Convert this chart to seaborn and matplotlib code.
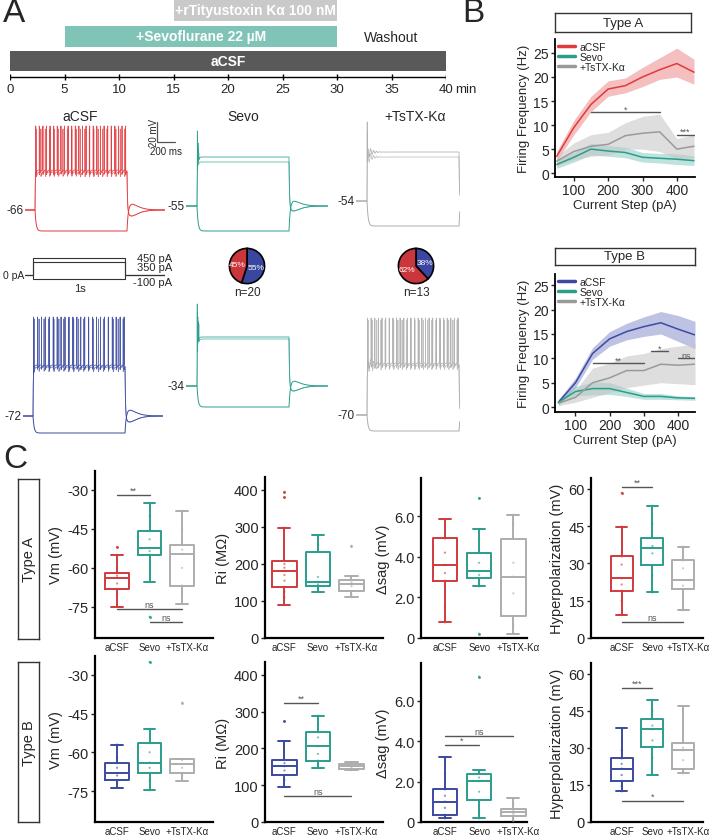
import numpy as np
import pandas as pd
import matplotlib
matplotlib.use("Agg")
import matplotlib.pyplot as plt
import matplotlib.transforms as mtransforms
from matplotlib.lines import Line2D
import seaborn as sns

# ======================= DATA =======================
# Panel A - timeline (minutes)
tl_labels = ["aCSF", "+Sevoflurane 22 µM", "+rTityustoxin Kα 100 nM"]
tl_start = [0, 5, 15]
tl_end = [40, 30, 30]
tl_ticks = [0, 5, 10, 15, 20, 25, 30, 35, 40]

# Panel A - example traces (mV)
trace_titles = ["aCSF", "Sevo", "+TsTX-Kα"]
rest_A = [-66, -55, -54]
rest_B = [-72, -34, -70]
plateau_A = [[-26, -28], [-6, -11], [-5, -10]]
plateau_B = [[-21, -23], [15, 13], [-18, -20]]
hyper_A = [-87, -80, -79]
hyper_B = [-89, -55, -86]
stim_levels = [450, 350, -100]

# Pie charts: proportion of Type A / Type B cells
pie_n = ["n=20", "n=13"]
pie_typeA = [45, 62]
pie_typeB = [55, 38]

# Panel B - F/I curves
steps = [50, 100, 150, 200, 250, 300, 350, 400, 450]
A_acsf = [3.5, 9.5, 14.3, 17.5, 18.2, 20.0, 21.5, 22.8, 21.0]
A_acsf_lo = [2.5, 8.0, 12.8, 16.0, 16.7, 18.0, 19.5, 20.0, 18.5]
A_acsf_hi = [4.5, 11.0, 16.0, 19.2, 19.8, 22.0, 24.0, 26.0, 23.7]
A_sevo = [1.8, 3.3, 5.0, 4.6, 4.3, 3.3, 3.1, 2.9, 2.6]
A_sevo_lo = [1.0, 2.3, 3.8, 3.5, 3.2, 2.3, 2.1, 1.8, 1.6]
A_sevo_hi = [2.6, 4.3, 6.2, 5.7, 5.4, 4.3, 4.1, 4.0, 3.6]
A_tstx = [2.5, 4.5, 5.6, 6.0, 7.8, 8.3, 8.6, 5.0, 5.6]
A_tstx_lo = [1.5, 2.8, 3.5, 3.8, 5.0, 5.0, 4.5, 3.0, 3.2]
A_tstx_hi = [3.5, 6.3, 8.0, 8.5, 10.5, 11.8, 12.3, 7.2, 8.0]
B_acsf = [1.0, 5.0, 11.0, 14.0, 15.5, 16.5, 17.3, 16.0, 14.8]
B_acsf_lo = [0.5, 4.0, 9.8, 12.5, 13.8, 14.5, 15.0, 13.5, 12.0]
B_acsf_hi = [1.5, 6.0, 12.2, 15.5, 17.2, 18.5, 19.6, 18.8, 17.6]
B_sevo = [1.0, 3.2, 3.8, 3.8, 3.0, 2.2, 2.2, 1.9, 1.8]
B_sevo_lo = [0.5, 2.3, 2.5, 2.6, 2.2, 1.6, 1.6, 1.5, 1.4]
B_sevo_hi = [1.5, 4.2, 5.2, 5.0, 3.9, 2.8, 2.8, 2.3, 2.2]
B_tstx = [0.8, 2.0, 5.0, 6.0, 7.5, 7.5, 8.8, 8.6, 8.8]
B_tstx_lo = [0.3, 1.0, 2.0, 3.0, 4.0, 4.5, 5.0, 4.8, 4.6]
B_tstx_hi = [1.3, 3.5, 8.0, 9.0, 10.5, 11.0, 12.0, 12.5, 13.0]
sigB_A = [(150, 350, 12.7, "*"), (400, 450, 8.0, "***")]
sigB_B = [(150, 300, 9.0, "**"), (320, 370, 11.5, "*"), (400, 450, 10.0, "ns")]

# Panel C - box plot values
conds = ["aCSF", "Sevo", "+TsTX-Kα"]
vm_A_acsf = [-75, -70, -68.1, -66, -63.8, -63, -61.9, -55, -52.0]
vm_A_sevo = [-78.8, -65.4, -54.9, -53.5, -52.3, -49, -45.8, -40, -35]
vm_A_tstx = [-73.8, -70, -66.8, -60, -54.6, -53, -51, -45, -38]
ri_A_acsf = [89, 110, 125, 138, 155, 170, 181, 190, 200, 208, 298, 380, 395]
ri_A_sevo = [125, 132, 140, 145, 152, 165, 233, 250, 278]
ri_A_tstx = [110, 118, 126, 140, 146, 150, 157, 167, 249]
sag_A_acsf = [0.77, 1.5, 2.82, 3.2, 3.6, 4.2, 4.9, 5.5, 5.85]
sag_A_sevo = [0.21, 2.54, 2.94, 3.1, 3.28, 3.7, 4.18, 5.36, 6.89]
sag_A_tstx = [0.21, 0.6, 1.07, 2.2, 3.02, 3.7, 4.87, 5.6, 6.07]
hyp_A_acsf = [9.2, 15, 19, 21.5, 24, 29.5, 32.8, 44.8, 58.3]
hyp_A_sevo = [18.3, 25, 29.3, 34, 36.3, 37, 40.3, 46, 53.2]
hyp_A_tstx = [11.2, 16, 19.5, 21, 23.3, 28, 31.2, 33, 36.7]
vm_B_acsf = [-73.8, -72, -70.9, -69, -68, -66, -64.2, -62, -57]
vm_B_sevo = [-74.7, -71, -68, -66, -64, -60, -56.4, -51, -25]
vm_B_tstx = [-71, -69, -68.2, -66, -64.6, -63, -62.6, -62.6, -40.8]
ri_B_acsf = [96, 115, 127.9, 140, 151.5, 160, 168.7, 219.6, 274]
ri_B_sevo = [147, 155, 167, 185, 206, 230, 244, 265, 289]
ri_B_tstx = [141, 142, 143, 148, 152, 156, 159, 160, 162]
sag_B_acsf = [0.18, 0.25, 0.36, 0.7, 1.01, 1.3, 1.61, 2.4, 3.22]
sag_B_sevo = [0.18, 0.6, 1.08, 1.5, 2.02, 2.2, 2.39, 2.55, 7.2]
sag_B_tstx = [0.0, 0.15, 0.28, 0.4, 0.48, 0.55, 0.65, 0.9, 1.18]
hyp_B_acsf = [12.4, 14.5, 16.6, 19, 21.6, 23.5, 25.7, 29, 38]
hyp_B_sevo = [19.2, 26, 30.5, 33, 37.5, 39, 41.8, 45, 49.3]
hyp_B_tstx = [19.7, 20.5, 21.3, 25, 29, 30, 32.1, 38, 46.9]
sig_vm_A = [(0, 1, -31.8, "**"), (0, 2, -76, "ns"), (1, 2, -81, "ns")]
sig_ri_A = []
sig_sag_A = []
sig_hyp_A = [(0, 1, 60.8, "**"), (0, 2, 6.3, "ns")]
sig_vm_B = []
sig_ri_B = [(0, 1, 324, "**"), (0, 2, 71.6, "ns")]
sig_sag_B = [(0, 1, 3.8, "*"), (0, 2, 4.24, "ns")]
sig_hyp_B = [(0, 1, 54.3, "***"), (0, 2, 8.4, "*")]

# ======================= STYLE =======================
sns.set_theme(style="white")
plt.rcParams["font.family"] = ["Liberation Sans", "DejaVu Sans"]
plt.rcParams["axes.unicode_minus"] = False

RED = "#e23b3f"
RED_BOX = "#d03a3e"
TEAL = "#2a9d8c"
GRAY = "#adadad"
BLUE = "#3b4a9f"
PIE_RED = "#c9363b"
PIE_BLUE = "#3b46a0"

W, H = 709, 837
fig = plt.figure(figsize=(W / 100, H / 100), dpi=100)


def px_axes(x0, y0, x1, y1, **kw):
    return fig.add_axes([x0 / W, 1 - y1 / H, (x1 - x0) / W, (y1 - y0) / H], **kw)


def ftext(x, y, s, **kw):
    fig.text(x / W, 1 - y / H, s, **kw)


# Panel letters
ftext(3, 14, "A", fontsize=24, va="center", ha="left")
ftext(462, 14, "B", fontsize=24, va="center", ha="left")
ftext(3, 460, "C", fontsize=24, va="center", ha="left")

# ======================= PANEL A: timeline =======================
ax_tl = px_axes(10, 0, 446, 100)
ax_tl.set_xlim(0, 40)
ax_tl.set_ylim(100, 0)
ax_tl.axis("off")
tl_rows = [62, 37.5, 11.5]
tl_heights = [20, 21, 21]
tl_colors = ["#595959", "#80c4b7", "#c9c9c9"]
for lab, s, e, yy, hh, c in zip(tl_labels, tl_start, tl_end, tl_rows, tl_heights, tl_colors):
    ax_tl.barh(yy, e - s, left=s, height=hh, color=c, edgecolor="none")
    ax_tl.text((s + e) / 2, yy, lab, ha="center", va="center", color="white",
               fontsize=10, fontweight="bold")
ax_tl.text(35, 37.5, "Washout", ha="center", va="center", fontsize=10)
ax_tl.hlines(78, 0, 40, color="black", lw=1)
ax_tl.vlines(tl_ticks, 75, 81, color="black", lw=1)
for tk in tl_ticks:
    ax_tl.text(tk, 90, str(tk), ha="center", va="center", fontsize=9.5)
ax_tl.text(40.8, 90, "min", ha="left", va="center", fontsize=9.5, clip_on=False)

# ======================= PANEL A: traces =======================
PX_PER_MS = 0.092


def trace_axes(x0_px, base_px, v_rest, tmin, tmax, vmin=-100, vmax=60):
    left = x0_px + tmin * PX_PER_MS
    right = x0_px + tmax * PX_PER_MS
    top = base_px - (vmax - v_rest)
    bottom = base_px - (vmin - v_rest)
    ax = px_axes(left, top, right, bottom)
    ax.set_xlim(tmin, tmax)
    ax.set_ylim(vmin, vmax)
    ax.axis("off")
    return ax


def step_response(t, v_rest, v_level, tau_on=6.0, rebound=0.0, tau_off=6.0,
                  osc=0.0, t_end=1000):
    v = np.full(t.shape, float(v_rest))
    on = (t >= 0) & (t < t_end)
    ton = t[on]
    v[on] = v_level + (v_rest - v_level) * np.exp(-ton / tau_on)
    if osc:
        v[on] += osc * np.exp(-ton / 45) * np.sin(2 * np.pi * ton / 32)
    v_last = v[on][-1]
    off = t >= t_end
    d = t[off] - t_end
    v[off] = v_rest + (v_last - v_rest) * np.exp(-d / tau_off) + rebound * (d / 50) * np.exp(1 - d / 50)
    return v


def add_spikes(t, v, times, peaks, ahp=5.0):
    peaks = np.broadcast_to(np.asarray(peaks, dtype=float), (len(times),))
    for ts in times:
        after = (t > ts) & (t < ts + 40)
        v[after] -= ahp * np.exp(-(t[after] - ts) / 8)
    for ts, pk in zip(times, peaks):
        i = int(np.argmin(np.abs(t - ts)))
        v[i] = pk
    return v


col_x0 = [35, 197, 367]
col_t = [(-110, 1410), (-120, 1420), (-120, 1010)]
colors_A = [RED, TEAL, GRAY]
colors_B = [BLUE, TEAL, GRAY]
base_px_A = [211, 207, 202]
base_px_B = [417, 387, 416]
x0_B = [33, 197, 367]

# spike specifications per trace (times in ms, peak in mV)
spk_A = [
    [(np.linspace(8, 985, 26), 18), (np.linspace(16, 975, 21), 15)],
    [([4, 11, 19], [20, 8, -2]), ([5, 14], [15, 3])],
    [([3], [25]), ([4], [15])],
]
spk_B = [
    [(np.linspace(6, 990, 24), 27), (np.linspace(12, 980, 19), 25)],
    [([3, 9, 16], [48, 35, 30]), ([4, 12, 20], [40, 30, 28])],
    [(np.linspace(6, 990, 26), 27), (np.linspace(14, 980, 22), 25)],
]
osc_cols = [0.0, 0.0, 8.0]
rebound_dep = [-6, -5, -4]
rebound_hyp = [6, 5, 3]

for row, (rest, plat, hyp, spk, cols, base_px, x0s) in enumerate([
        (rest_A, plateau_A, hyper_A, spk_A, colors_A, base_px_A, col_x0),
        (rest_B, plateau_B, hyper_B, spk_B, colors_B, base_px_B, x0_B)]):
    for c in range(3):
        tmin, tmax = col_t[c]
        ax = trace_axes(x0s[c], base_px[c], rest[c], tmin, tmax)
        t = np.arange(tmin, tmax, 1.0)
        vh = step_response(t, rest[c], hyp[c], tau_on=12, rebound=rebound_hyp[c], tau_off=12)
        ax.plot(t, vh, color=cols[c], lw=0.7)
        for k in range(2):
            vd = step_response(t, rest[c], plat[c][k], tau_on=3, rebound=rebound_dep[c],
                               tau_off=5, osc=osc_cols[c])
            times, peaks = spk[c][k]
            vd = add_spikes(t, vd, times, peaks, ahp=5.0 if len(times) > 3 else 2.0)
            ax.plot(t, vd, color=cols[c], lw=0.6, alpha=0.9 if k == 0 else 0.75)
        ax.text(tmin - 15, rest[c], str(rest[c]), ha="right", va="center", fontsize=8.5,
                clip_on=False)
        if row == 0 and c == 0:
            # scale bar: 20 mV / 200 ms
            tb, vb = 1326, 2
            ax.plot([tb, tb, tb + 200], [vb + 20, vb, vb], color="#555555", lw=0.9, clip_on=False)
            ax.text(tb - 30, vb + 10, "20 mV", rotation=90, ha="center", va="center",
                    fontsize=7, clip_on=False)
            ax.text(tb + 100, vb - 4, "200 ms", ha="center", va="top", fontsize=7,
                    clip_on=False)

for x, lab in zip([80, 243, 415], trace_titles):
    ftext(x, 117, lab, ha="center", va="center", fontsize=10)

# stimulus protocol
st_x0 = 33
st_tmin, st_tmax = -90, 1435
pa_scale = 21 / 550  # px per pA
st_vmin, st_vmax = -150, 500
ax_st = px_axes(st_x0 + st_tmin * PX_PER_MS, 259 - (st_vmax - 450) * pa_scale,
                st_x0 + st_tmax * PX_PER_MS, 280 + (-100 - st_vmin) * pa_scale)
ax_st.set_xlim(st_tmin, st_tmax)
ax_st.set_ylim(st_vmin, st_vmax)
ax_st.axis("off")
for lvl in stim_levels:
    ax_st.plot([st_tmin, 0, 0, 1000, 1000, st_tmax], [0, 0, lvl, lvl, 0, 0],
               color="#333333", lw=0.8)
ftext(24, 276, "0 pA", ha="right", va="center", fontsize=7.5)
ftext(137, 259, "450 pA", ha="left", va="center", fontsize=8)
ftext(137, 268.5, "350 pA", ha="left", va="center", fontsize=8)
ftext(133, 283, "-100 pA", ha="left", va="center", fontsize=8)
ftext(80, 289, "1s", ha="center", va="center", fontsize=8)

# pies
for (cx, cy), a, b, n in zip([(247, 267), (416, 267)], pie_typeA, pie_typeB, pie_n):
    axp = px_axes(cx - 22, cy - 22, cx + 22, cy + 22)
    axp.pie([b, a], colors=[PIE_BLUE, PIE_RED], startangle=90, counterclock=False,
            autopct="%d%%", pctdistance=0.55,
            textprops=dict(color="white", fontsize=6),
            wedgeprops=dict(edgecolor="black", linewidth=1.2))
    axp.set_aspect("equal")
    ftext(cx, cy + 26, n, ha="center", va="center", fontsize=8.5)

# ======================= PANEL B =======================
def header_box(x0, y0, x1, y1, text, rotation=0, fs=9):
    axh = px_axes(x0, y0, x1, y1)
    axh.set_xticks([])
    axh.set_yticks([])
    for sp in axh.spines.values():
        sp.set_visible(True)
        sp.set_color("#333333")
        sp.set_linewidth(1.0)
    axh.text(0.5, 0.5, text, ha="center", va="center", fontsize=fs, rotation=rotation,
             transform=axh.transAxes)
    axh.set_facecolor("white")
    return axh


def fi_panel(box, hdr, title, series, sigs, xlim, ylim):
    header_box(*hdr, title, fs=9.5)
    ax = px_axes(*box)
    rows = []
    for name, mean, lo, hi, col, bandcol, balpha in series:
        rows.append(pd.DataFrame({"step": steps, "freq": mean, "cond": name}))
        ax.fill_between(steps, lo, hi, color=bandcol, alpha=balpha, lw=0)
    df = pd.concat(rows, ignore_index=True)
    pal = {s[0]: s[4] for s in series}
    sns.lineplot(data=df, x="step", y="freq", hue="cond", palette=pal, ax=ax,
                 lw=1.1, legend=False, errorbar=None)
    for x1, x2, y, txt in sigs:
        ax.plot([x1, x2], [y, y], color="#555555", lw=1)
        ax.text((x1 + x2) / 2, y - 0.3, txt, ha="center", va="bottom", fontsize=6.5,
                color="#555555")
    handles = [Line2D([0], [0], color=s[4], lw=2.5) for s in series]
    ax.legend(handles, [s[0] for s in series], loc="upper left", frameon=False,
              fontsize=7.5, handlelength=1.6, labelspacing=0.0, handletextpad=0.5,
              borderaxespad=0.1, borderpad=0.2)
    ax.set_xlim(*xlim)
    ax.set_ylim(*ylim)
    ax.set_xticks([100, 200, 300, 400])
    ax.set_yticks([0, 5, 10, 15, 20, 25])
    ax.set_xlabel("Current Step (pA)", fontsize=9.5, labelpad=1)
    ax.set_ylabel("Firing Frequency (Hz)", fontsize=9.5, labelpad=2)
    ax.tick_params(axis="both", labelsize=10, length=3, width=1, direction="out",
                   bottom=True, left=True, pad=1.5)
    for sp in ["top", "right"]:
        ax.spines[sp].set_visible(False)
    for sp in ["left", "bottom"]:
        ax.spines[sp].set_linewidth(1.3)
        ax.spines[sp].set_color("black")
    return ax


fi_panel((555, 40, 695, 178), (555, 14, 691, 33), "Type A",
         [("aCSF", A_acsf, A_acsf_lo, A_acsf_hi, "#e03a3c", "#ee8a8c", 0.55),
          ("Sevo", A_sevo, A_sevo_lo, A_sevo_hi, TEAL, "#5fb8a9", 0.4),
          ("+TsTX-Kα", A_tstx, A_tstx_lo, A_tstx_hi, "#9a9a9a", "#c4c4c4", 0.55)],
         sigB_A, (45, 453), (-0.8, 27.9))
fi_panel((555, 275, 695, 413), (555, 249, 695, 266), "Type B",
         [("aCSF", B_acsf, B_acsf_lo, B_acsf_hi, "#3d4aa3", "#8a92cc", 0.55),
          ("Sevo", B_sevo, B_sevo_lo, B_sevo_hi, TEAL, "#5fb8a9", 0.4),
          ("+TsTX-Kα", B_tstx, B_tstx_lo, B_tstx_hi, "#9a9a9a", "#c4c4c4", 0.55)],
         sigB_B, (40, 450), (-1.0, 27.3))

# ======================= PANEL C =======================
header_box(18, 480, 39, 640, "Type A", rotation=90, fs=10.5)
header_box(18, 663, 39, 823, "Type B", rotation=90, fs=10.5)

col_x = [(95, 213), (265, 383), (421, 527), (591, 703)]
row_y = [[(472, 639), (478, 639), (479, 639), (479, 639)],
         [(657, 823), (663, 823), (664, 823), (664, 823)]]
col_xlim = [(-0.68, 2.95), (-0.58, 2.94), (-0.7, 2.4), (-1.0, 2.65)]
col_ylim = [(-87, -22.7), (0, 435), (0, 7.87), (0, 64.3)]
col_yticks = [[-75, -60, -45, -30], [0, 100, 200, 300, 400], [0, 2, 4, 6], [0, 15, 30, 45, 60]]
col_yticklabels = [["-75", "-60", "-45", "-30"], ["0", "100", "200", "300", "400"],
                   ["0", "2.0", "4.0", "6.0"], ["0", "15", "30", "45", "60"]]
col_ylabel = ["Vm (mV)", "Ri (MΩ)", "Δsag (mV)", "Hyperpolarization (mV)"]

box_data = [
    [(vm_A_acsf, vm_A_sevo, vm_A_tstx), (ri_A_acsf, ri_A_sevo, ri_A_tstx),
     (sag_A_acsf, sag_A_sevo, sag_A_tstx), (hyp_A_acsf, hyp_A_sevo, hyp_A_tstx)],
    [(vm_B_acsf, vm_B_sevo, vm_B_tstx), (ri_B_acsf, ri_B_sevo, ri_B_tstx),
     (sag_B_acsf, sag_B_sevo, sag_B_tstx), (hyp_B_acsf, hyp_B_sevo, hyp_B_tstx)],
]
sig_data = [[sig_vm_A, sig_ri_A, sig_sag_A, sig_hyp_A],
            [sig_vm_B, sig_ri_B, sig_sag_B, sig_hyp_B]]
row_palettes = [[RED_BOX, TEAL, GRAY], [BLUE, TEAL, GRAY]]
shift_last = mtransforms.ScaledTranslation(5 / 100, 0, fig.dpi_scale_trans)

for r in range(2):
    pal = dict(zip(conds, row_palettes[r]))
    for c in range(4):
        (x0, x1), (y0, y1) = col_x[c], row_y[r][c]
        ax = px_axes(x0, y0, x1, y1)
        vals = box_data[r][c]
        df = pd.DataFrame({
            "cond": np.repeat(conds, [len(v) for v in vals]),
            "val": np.concatenate([np.asarray(v, dtype=float) for v in vals]),
        })
        sns.boxplot(data=df, x="cond", y="val", hue="cond", order=conds, hue_order=conds,
                    palette=pal, fill=False, width=0.72, linewidth=1.4, fliersize=1.0,
                    flierprops=dict(marker="o"), legend=False, ax=ax)
        sns.stripplot(data=df, x="cond", y="val", hue="cond", order=conds, hue_order=conds,
                      palette=pal, size=1.6, jitter=False, alpha=0.6, legend=False, ax=ax)
        for i1, i2, y, txt in sig_data[r][c]:
            ax.plot([i1, i2], [y, y], color="#555555", lw=1)
            ax.text((i1 + i2) / 2, y, txt, ha="center", va="bottom", fontsize=6.5,
                    color="#555555")
        ax.set_xlim(*col_xlim[c])
        ax.set_ylim(*col_ylim[c])
        ax.set_yticks(col_yticks[c])
        ax.set_yticklabels(col_yticklabels[c])
        ax.set_xlabel("")
        ax.set_ylabel(col_ylabel[c], fontsize=10.5, labelpad=3)
        ax.tick_params(axis="y", labelsize=10.5, length=3, width=1, left=True, pad=1.5)
        ax.tick_params(axis="x", labelsize=7, length=0, pad=3)
        lbls = ax.get_xticklabels()
        lbls[-1].set_transform(lbls[-1].get_transform() + shift_last)
        for sp in ["top", "right"]:
            ax.spines[sp].set_visible(False)
        for sp in ["left", "bottom"]:
            ax.spines[sp].set_linewidth(1.6)
            ax.spines[sp].set_color("black")

fig.savefig("out.png", dpi=100, facecolor="white")
